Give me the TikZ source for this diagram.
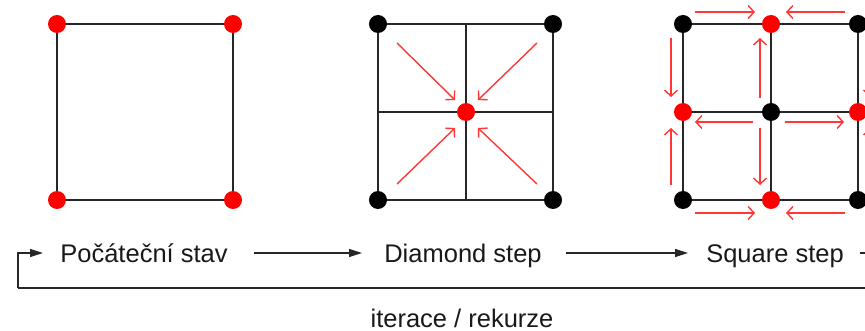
\documentclass[tikz,border=0pt]{standalone}
\usepackage{fontspec}
\setmainfont{Liberation Sans}
\usetikzlibrary{arrows.meta}

\definecolor{dotred}{RGB}{255,0,0}
\definecolor{arrred}{RGB}{255,55,55}

\tikzset{
  grid/.style={line width=1.6pt, black!85},
  rdot/.style={circle, fill=dotred, minimum size=18pt, inner sep=0pt},
  kdot/.style={circle, fill=black, minimum size=18pt, inner sep=0pt},
  move/.style={arrred, line width=1.4pt, -{Straight Barb[length=6pt,width=13pt,line width=1.4pt]}},
  flow/.style={line width=1.2pt, black!85, -{Triangle[length=13pt,width=8pt]}},
  loopline/.style={line width=1.6pt, black!85},
  label/.style={font=\fontsize{25.5}{30}\selectfont, inner sep=0pt, anchor=base, text=black!90},
}

\begin{document}
\begin{tikzpicture}[x=1pt, y=-1pt]
  \useasboundingbox (0,0) rectangle (865,331);

  % --- initial state: four corners ---
  \coordinate (p1) at (57,24);
  \coordinate (p2) at (233,24);
  \coordinate (p3) at (57,200);
  \coordinate (p4) at (233,200);
  \draw[grid] (p1) rectangle (p4);
  \node[rdot] (s1a) at (p1) {};
  \node[rdot] (s1b) at (p2) {};
  \node[rdot] (s1c) at (p3) {};
  \node[rdot] (s1d) at (p4) {};

  % --- diamond step ---
  \coordinate (q1) at (378,24);
  \coordinate (q4) at (553,200);
  \coordinate (qt) at (466,24);
  \coordinate (qb) at (466,200);
  \coordinate (ql) at (378,112);
  \coordinate (qr) at (553,112);
  \draw[grid] (q1) rectangle (q4);
  \draw[grid] (qt) -- (qb) (ql) -- (qr);
  \node[kdot] (s2a) at (378,24) {};
  \node[kdot] (s2b) at (553,24) {};
  \node[kdot] (s2c) at (378,200) {};
  \node[kdot] (s2d) at (553,200) {};
  \node[rdot] (s2m) at (466,112) {};
  \coordinate (d1) at (397,43);
  \coordinate (d2) at (537,43);
  \coordinate (d3) at (397,184);
  \coordinate (d4) at (537,184);
  \draw[move] (d1) -- (455,100);
  \draw[move] (d2) -- (478,100);
  \draw[move] (d3) -- (455,128);
  \draw[move] (d4) -- (478,128);

  % --- square step ---
  \coordinate (r1) at (683,24);
  \coordinate (r4) at (858,200);
  \draw[grid] (r1) rectangle (r4);
  \draw[grid] (771,24) -- (771,200) (683,112) -- (858,112);
  % arrows toward the edge midpoints
  \draw[move] (695,12) -- (755,12);
  \draw[move] (845,12) -- (786,12);
  \draw[move] (695,213) -- (755,213);
  \draw[move] (845,213) -- (786,213);
  \draw[move] (671,38) -- (671,97);
  \draw[move] (671,185) -- (671,128);
  \draw[move] (870,38) -- (870,97);
  \draw[move] (870,185) -- (870,128);
  \draw[move] (760,98) -- (760,38);
  \draw[move] (760,128) -- (760,185);
  \draw[move] (753,122) -- (695,122);
  \draw[move] (785,122) -- (844,122);
  \node[kdot] (s3a) at (683,24) {};
  \node[kdot] (s3b) at (858,24) {};
  \node[kdot] (s3c) at (683,200) {};
  \node[kdot] (s3d) at (858,200) {};
  \node[kdot] (s3m) at (771,112) {};
  \node[rdot] (s3t) at (771,24) {};
  \node[rdot] (s3bm) at (771,200) {};
  \node[rdot] (s3l) at (683,112) {};
  \node[rdot] (s3r) at (858,112) {};

  % --- process row ---
  \node[label] (init) at (144,262) {Počáteční stav};
  \node[label] (diam) at (463,262) {Diamond step};
  \node[label] (sq) at (775,262) {Square step};
  \node[label] (iter) at (462,327) {iterace / rekurze};

  \coordinate (a1s) at (254,253);
  \coordinate (a1e) at (362,253);
  \coordinate (a2s) at (566,253);
  \coordinate (a2e) at (688,253);
  \coordinate (a3s) at (860,253);
  \coordinate (a3e) at (960,253);
  \draw[flow] (a1s) -- (a1e);
  \draw[flow] (a2s) -- (a2e);
  \draw[flow] (a3s) -- (a3e);

  % feedback loop back to the start
  \coordinate (loopR) at (960,288);
  \coordinate (loopL) at (18,288);
  \coordinate (loopIn) at (43,253);
  \draw[loopline] (loopR) -- (loopL);
  \draw[flow] (loopL) |- (loopIn);
\end{tikzpicture}
\end{document}
